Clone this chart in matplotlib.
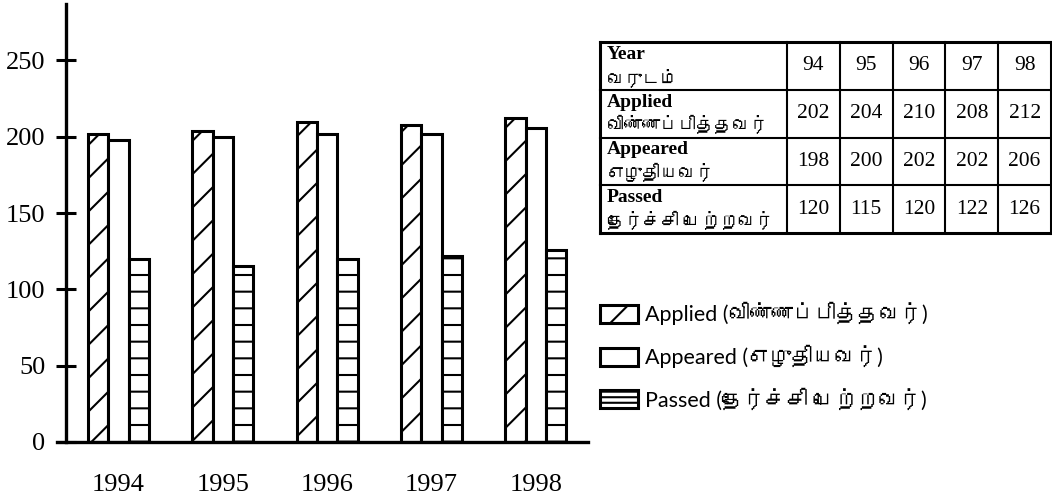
import numpy as np
import matplotlib
matplotlib.use("Agg")
import matplotlib.pyplot as plt
from matplotlib import font_manager, ft2font

# data
years = ["1994", "1995", "1996", "1997", "1998"]
short_years = ["94", "95", "96", "97", "98"]
applied = [202, 204, 210, 208, 212]
appeared = [198, 200, 202, 202, 206]
passed = [120, 115, 120, 122, 126]
y_ticks = [0, 50, 100, 150, 200, 250]

row_en = ["Year", "Applied", "Appeared", "Passed"]
row_ta = ["வருடம்", "விண்ணப்பித்தவர்", "எழுதியவர்", "தேர்ச்சி பெற்றவர்"]


def find_tamil_font():
    # look for any installed font that covers Tamil
    for f in font_manager.fontManager.ttflist:
        try:
            if 0x0BB5 in ft2font.FT2Font(f.fname).get_charmap():
                return f.name
        except Exception:
            continue
    return None


ta_font = find_tamil_font()
extra = [ta_font] if ta_font else []
serif = ["Liberation Serif"] + extra + ["DejaVu Sans"]
sans = ["Lato"] + extra + ["DejaVu Sans"]

plt.rcParams["font.family"] = serif
plt.rcParams["hatch.linewidth"] = 1.5

W, H = 1052, 499
fig = plt.figure(figsize=(W / 100, H / 100), dpi=100)
fig.patch.set_facecolor("white")

# main bar chart
ax = fig.add_axes([57 / W, 57 / H, 531 / W, 438 / H])
x = np.arange(len(years))
w = 0.195
style = dict(facecolor="white", edgecolor="black", linewidth=2.2)
b1 = ax.bar(x - w, applied, w, hatch="/", **style)
b2 = ax.bar(x, appeared, w, **style)
b3 = ax.bar(x + w, passed, w, hatch="-", **style)

ax.set_xlim(-0.59, 4.50)
ax.set_ylim(0, 287)
ax.spines["top"].set_visible(False)
ax.spines["right"].set_visible(False)
ax.spines["left"].set_position(("axes", 0.017))
ax.spines["left"].set_linewidth(2.4)
ax.spines["bottom"].set_linewidth(2.4)

ax.set_yticks(y_ticks)
ax.tick_params(axis="y", direction="inout", length=14, width=2.2, pad=8, labelsize=19)
ax.set_xticks(x, years)
ax.tick_params(axis="x", length=0, pad=23, labelsize=19)

# legend
labels = [f"{en} ({ta})" for en, ta in zip(row_en[1:], row_ta[1:])]
leg = fig.legend([b1, b2, b3], labels, loc="upper left",
                 bbox_to_anchor=(600 / W, 1 - 302 / H), frameon=False,
                 prop={"family": sans, "size": 15.5}, handlelength=1.75,
                 handleheight=0.95, handletextpad=0.35, labelspacing=0.92,
                 borderpad=0, borderaxespad=0)
# small legend boxes need denser stripes to show them
leg.legend_handles[2].set_hatch("---")

# data table
tax = fig.add_axes([600 / W, 1 - 233 / H, 451 / W, 191 / H])
tax.axis("off")
col_w = [187] + [52.8] * 5
edges = np.concatenate([[0], np.cumsum(col_w)])
tax.set_xlim(0, edges[-1])
tax.set_ylim(0, 4)
for i, e in enumerate(edges):
    lw = 2.2 if i in (0, len(edges) - 1) else 1.5
    tax.axvline(e, color="black", lw=lw, clip_on=False)
for r in range(5):
    lw = 2.2 if r in (0, 4) else 1.5
    tax.axhline(r, color="black", lw=lw, clip_on=False)

rows = [short_years, applied, appeared, passed]
row_h = 191 / 4
for r in range(4):
    top = 4 - r
    tax.text(7, top - 4 / row_h, row_en[r], ha="left", va="top",
             fontsize=14, fontweight="bold")
    tax.text(7, top - 1 + 3 / row_h, row_ta[r], ha="left", va="bottom",
             fontsize=13, family=sans)
    for c, v in enumerate(rows[r]):
        cx = (edges[c + 1] + edges[c + 2]) / 2
        tax.text(cx, top - 0.5, str(v), ha="center", va="center", fontsize=15.5)

fig.savefig("out.png", dpi=100, facecolor="white")
